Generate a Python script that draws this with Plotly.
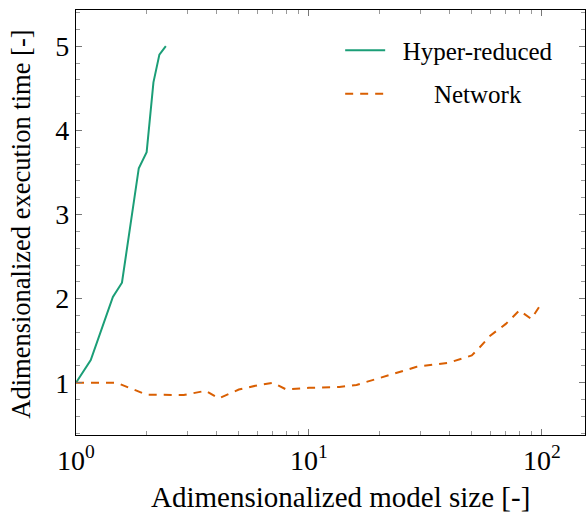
import plotly.graph_objects as go

hr_x = [1.0, 1.157, 1.44, 1.575, 1.86, 2.01, 2.15, 2.28, 2.43]
hr_y = [1.0, 1.27, 2.02, 2.19, 3.55, 3.74, 4.57, 4.90, 5.0]

net_x = [1, 1.5, 2, 2.9, 3.6, 4.1, 5, 6, 7, 8, 10, 13.5, 16, 21, 29, 40, 50, 54, 60, 70, 80, 90, 100]
net_y = [1, 1, 0.86, 0.855, 0.905, 0.815, 0.92, 0.97, 1.0, 0.92, 0.94, 0.95, 0.975, 1.07, 1.19, 1.24, 1.325, 1.42, 1.56, 1.70, 1.86, 1.76, 1.95]

x_major = [1, 10, 100]
x_major_text = ["10<sup>0</sup>", "10<sup>1</sup>", "10<sup>2</sup>"]
x_minor = [m * d for d in (1, 10, 100) for m in range(2, 10)]
y_major = [1, 2, 3, 4, 5]
y_minor = [round(0.4 + 0.2 * i, 1) for i in range(26)]

x_title = "Adimensionalized model size [-]"
y_title = "Adimensionalized execution time [-]"

font = "Times New Roman"
nb = "\u00a0"
fig = go.Figure()
fig.add_trace(go.Scatter(x=hr_x, y=hr_y, mode="lines", name=nb * 2 + "Hyper-reduced",
                         legendgroup="a",
                         line=dict(color="#1b9e77", width=2)))
fig.add_trace(go.Scatter(x=net_x, y=net_y, mode="lines",
                         name=nb * 7 + "Network",
                         legendgroup="b",
                         line=dict(color="#d95f02", width=2, dash="8px,7px")))

axis_common = dict(showline=True, linecolor="black", linewidth=1.2, mirror="ticks",
                   ticks="inside", ticklen=6, tickcolor="#777", tickwidth=1,
                   showgrid=False, zeroline=False, automargin=False,
                   tickfont=dict(family=font, size=28, color="black"))
fig.update_xaxes(type="log", range=[0, 2.185], tickvals=x_major, ticktext=x_major_text,
                 minor=dict(tickvals=x_minor, ticks="inside", ticklen=4, tickcolor="#999", showgrid=False),
                 **axis_common)
fig.update_yaxes(range=[0.38, 5.43], tickvals=y_major,
                 minor=dict(tickvals=y_minor, ticks="inside", ticklen=4, tickcolor="#999", showgrid=False),
                 **axis_common)
fig.add_annotation(text=x_title, xref="paper", yref="paper", x=0.519, y=-0.146,
                   xanchor="center", yanchor="middle", showarrow=False,
                   font=dict(family=font, size=29, color="black"))
fig.add_annotation(text=y_title, xref="paper", yref="paper", x=-0.107, y=0.496,
                   xanchor="center", yanchor="middle", showarrow=False, textangle=-90,
                   font=dict(family=font, size=26.5, color="black"))
fig.update_layout(width=588, height=515, margin=dict(l=76, r=3, t=10, b=80),
                  plot_bgcolor="white", paper_bgcolor="white",
                  font=dict(family=font, size=24, color="black"),
                  showlegend=True,
                  legend=dict(x=0.519, y=0.959, xanchor="left", yanchor="top",
                              bgcolor="rgba(0,0,0,0)", font=dict(family=font, size=25),
                              itemwidth=40, tracegroupgap=8))
fig.write_html("out.html", config={"displayModeBar": False},
               post_script="document.body.style.margin='0';")
